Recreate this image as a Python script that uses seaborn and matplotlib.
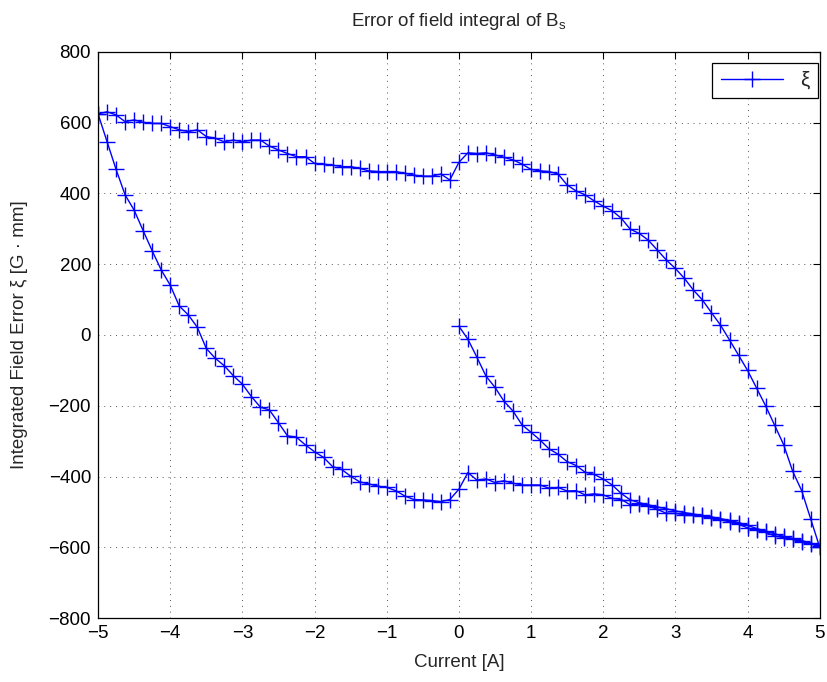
import numpy as np
import pandas as pd
import matplotlib
matplotlib.use("Agg")
import matplotlib.pyplot as plt
import seaborn as sns

# Initial magnetisation branch: 0 -> 5 A (step 0.125 A)
init_x = [i * 0.125 for i in range(41)]
init_y = [25, -12, -63, -116, -148, -187, -215, -254, -275, -297, -322, -337,
          -358, -369, -388, -394, -407, -424, -448, -466, -474, -480, -486, -491,
          -497, -502, -506, -510, -514, -519, -524, -530, -538, -547, -554, -562,
          -569, -575, -581, -588, -596]

# Descending branch: 5 -> -5 A
down_x = [5 - i * 0.125 for i in range(81)]
down_y = [-600, -520, -440, -385, -310, -255, -200, -150, -100, -57, -14, 28,
          63, 99, 127, 160, 188, 212, 240, 268, 287, 299, 330, 351, 364, 379,
          396, 407, 424, 455, 462, 464, 468, 483, 495, 502, 509, 515, 513, 515,
          488, 438, 455, 449, 449, 452, 457, 462, 462, 462, 464, 471, 476, 476,
          480, 483, 485, 504, 504, 513, 523, 534, 551, 551, 546, 551, 546, 556,
          561, 580, 575, 580, 589, 598, 598, 601, 608, 603, 622, 631, 625]

# Ascending branch: -5 -> 5 A
up_x = [-5 + i * 0.125 for i in range(81)]
up_y = [625, 546, 468, 396, 353, 295, 238, 184, 141, 82, 57, 22, -38, -66,
        -87, -115, -139, -174, -204, -212, -248, -285, -289, -311, -330, -346,
        -372, -380, -399, -415, -421, -427, -431, -440, -455, -465, -466, -468,
        -471, -465, -436, -389, -410, -407, -417, -412, -419, -424, -424, -424,
        -433, -431, -441, -440, -452, -449, -452, -462, -465, -480, -478, -483,
        -493, -504, -504, -508, -510, -513, -518, -522, -528, -535, -545, -552,
        -558, -568, -573, -578, -585, -590, -600]

x_ticks = [-5, -4, -3, -2, -1, 0, 1, 2, 3, 4, 5]
y_ticks = [-800, -600, -400, -200, 0, 200, 400, 600, 800]

df = pd.DataFrame({
    "x": init_x + down_x + up_x,
    "y": init_y + down_y + up_y,
})

sns.set_style("white")
plt.rcParams["font.family"] = ["Liberation Sans", "DejaVu Sans"]
plt.rcParams["mathtext.fontset"] = "custom"
plt.rcParams["mathtext.rm"] = "Liberation Sans"
plt.rcParams["mathtext.it"] = "Liberation Sans"

fig = plt.figure(figsize=(8.28, 6.82), dpi=100)
ax = fig.add_axes([0.1184, 0.0938, 0.8716, 0.8300])

blue = "#0000ff"
sns.lineplot(data=df, x="x", y="y", sort=False, estimator=None, ax=ax,
             color=blue, linewidth=1.0, marker="+", markersize=12,
             markeredgewidth=1.0, markeredgecolor=blue, markerfacecolor=blue,
             label="ξ")

ax.set_xlim(-5, 5)
ax.set_ylim(-800, 800)
ax.set_xticks(x_ticks)
ax.set_yticks(y_ticks)
ax.set_xticklabels([f"{t}".replace("-", "\u2212") for t in x_ticks])
ax.set_yticklabels([f"{t}".replace("-", "\u2212") for t in y_ticks])
ax.tick_params(direction="in", length=5, width=0.8, labelsize=13.5,
               top=True, right=True, colors="black", pad=5)
ax.grid(True, linestyle=(0, (1, 5)), color="#555555", linewidth=0.7)
for s in ax.spines.values():
    s.set_color("black")
    s.set_linewidth(0.9)

ax.set_xlabel("Current [A]", fontsize=13.5, labelpad=9)
ax.set_ylabel("Integrated Field Error ξ [G · mm]", fontsize=13.5, labelpad=15)
ax.set_title("Error of field integral of B$_\\mathregular{s}$", fontsize=13.5, pad=19)

leg = ax.legend(loc="upper right", fontsize=15, frameon=True, fancybox=False,
                edgecolor="black", framealpha=1, handlelength=3.0,
                bbox_to_anchor=(0.997, 0.981), borderaxespad=0)
leg.get_frame().set_linewidth(0.9)

fig.savefig("out.png", dpi=100)
